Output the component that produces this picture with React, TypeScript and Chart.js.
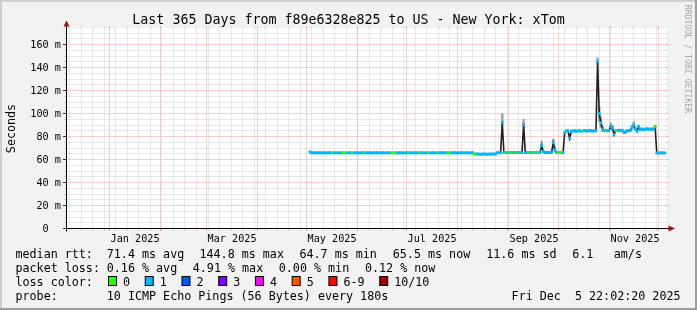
import React, { useEffect, useRef } from 'react';
import Chart from 'chart.js/auto';

// ---------------- data ----------------
const TITLE = 'Last 365 Days from f89e6328e825 to US - New York: xTom';
const Y_AXIS_TITLE = 'Seconds';
const WATERMARK = 'RRDTOOL / TOBI OETIKER';
const DAY_MS = 86400000;
const END_TIME = Date.UTC(2025, 11, 5, 22, 2, 20);
const START_TIME = END_TIME - 365 * DAY_MS;
const FIRST_SAMPLE = Date.UTC(2025, 4, 3); // day index 0

// median rtt per day (ms), from May 3 2025 to Dec 5 2025
const MEDIAN_MS = [
  66.5, 65.9, 65.8, 65.9, 65.8, 65.8, 65.9, 65.8, 65.8, 65.9, 65.8, 65.8, 65.9, 65.8, 65.8, 65.8, 65.9, 65.8, 65.8, 65.8,
  65.8, 65.9, 65.8, 65.8, 65.9, 65.8, 65.8, 65.8, 65.9, 65.8, 65.8, 65.8, 65.9, 65.8, 65.8, 65.9, 65.8, 65.8, 65.8, 65.9,
  65.8, 65.9, 65.8, 65.8, 65.9, 65.8, 65.8, 65.8, 65.9, 65.8, 65.8, 65.8, 65.9, 65.8, 65.8, 65.9, 65.8, 65.8, 65.8, 65.9,
  65.8, 65.9, 65.8, 65.8, 65.9, 65.8, 65.8, 65.8, 65.9, 65.8, 65.8, 65.8, 65.9, 65.8, 65.8, 65.9, 65.8, 65.8, 65.8, 65.9,
  65.8, 65.9, 65.8, 65.8, 65.9, 65.8, 65.8, 65.8, 65.9, 65.8, 65.8, 65.8, 65.9, 65.8, 65.8, 65.9, 65.8, 65.8, 65.8, 65.9,
  64.8, 64.7, 64.8, 64.7, 64.6, 64.7, 64.8, 64.7, 64.6, 64.7, 64.8, 64.7, 64.8, 64.9, 65.9, 66.0, 65.9, 92.5, 66.0, 66.1,
  66.0, 66.1, 66.0, 66.0, 66.1, 66.0, 66.0, 66.1, 66.0, 66.0, 90.5, 66.0, 66.1, 66.0, 66.0, 66.1, 66.0, 66.0, 66.1, 66.0,
  66.2, 72.0, 67.0, 66.1, 66.0, 66.1, 66.0, 66.3, 74.5, 68.5, 66.2, 66.0, 66.1, 66.0, 66.1, 83.5, 85.0, 85.0, 78.5, 84.6,
  84.8, 85.0, 84.6, 84.8, 85.0, 84.7, 84.9, 85.2, 84.8, 84.9, 85.3, 85.0, 84.8, 85.1, 85.0, 145.0, 100.0, 92.0, 86.5, 85.2,
  85.4, 85.0, 85.3, 89.0, 87.5, 81.5, 85.0, 85.3, 85.6, 85.2, 85.4, 83.5, 84.0, 85.3, 85.1, 85.5, 88.0, 90.0, 86.5, 84.5,
  88.5, 86.2, 86.5, 86.0, 86.4, 86.8, 86.3, 86.6, 86.2, 86.7, 88.5, 65.8, 65.7, 65.8, 65.8, 65.7, 65.8,
];

// loss band per day (index into LOSS_COLORS)
const LOSS_BAND = [
  1, 1, 1, 1, 1, 1, 1, 1, 1, 1, 1, 1, 1, 1, 0, 1, 1, 1, 1, 1,
  0, 0, 0, 1, 1, 1, 0, 1, 1, 1, 1, 1, 1, 0, 1, 1, 1, 1, 1, 1,
  1, 1, 1, 1, 1, 1, 1, 1, 1, 1, 0, 0, 0, 1, 1, 1, 1, 1, 1, 1,
  0, 1, 1, 1, 1, 1, 1, 0, 1, 1, 1, 1, 0, 1, 1, 1, 1, 1, 0, 1,
  1, 1, 1, 1, 0, 0, 1, 1, 1, 1, 1, 1, 1, 1, 1, 1, 1, 1, 1, 1,
  0, 0, 1, 1, 1, 1, 1, 1, 1, 1, 1, 1, 1, 1, 1, 1, 1, 1, 1, 0,
  1, 0, 1, 0, 1, 0, 1, 0, 1, 1, 1, 1, 1, 0, 1, 0, 1, 0, 1, 0,
  1, 1, 1, 1, 1, 1, 1, 1, 1, 1, 1, 0, 0, 0, 1, 1, 1, 1, 1, 1,
  1, 1, 1, 1, 1, 1, 0, 1, 1, 1, 1, 1, 1, 1, 1, 1, 1, 1, 1, 1,
  0, 1, 1, 1, 1, 1, 1, 0, 1, 1, 1, 1, 1, 1, 1, 1, 1, 1, 1, 1,
  1, 1, 1, 1, 1, 1, 1, 1, 1, 1, 0, 1, 1, 1, 1, 1, 1,
];

// visible "smoke" (ping spread) on a few days
const SMOKE_DAY = [117, 130, 141, 148, 149, 175, 176, 177, 178, 183, 184, 196, 197, 200, 210];
const SMOKE_LOW = [91.0, 89.5, 70.5, 72.5, 67.0, 143.0, 93.0, 88.0, 84.5, 87.0, 86.0, 86.5, 88.0, 87.0, 87.0];
const SMOKE_HIGH = [100.0, 95.0, 76.0, 77.5, 71.0, 148.5, 106.0, 97.0, 89.0, 92.0, 90.0, 90.0, 93.0, 90.0, 90.0];

const Y_MAX = 174;
const Y_MINOR_STEP = 5;
const Y_MAJOR_STEP = 20;
const Y_TICKS = [0, 20, 40, 60, 80, 100, 120, 140, 160];
const Y_TICK_LABELS = ['0  ', '20 m', '40 m', '60 m', '80 m', '100 m', '120 m', '140 m', '160 m'];
const X_LABELS = ['Jan 2025', 'Mar 2025', 'May 2025', 'Jul 2025', 'Sep 2025', 'Nov 2025'];
const X_LABEL_MONTHS = [0, 2, 4, 6, 8, 10];

const LOSS_COLORS = ['#26ff00', '#00b8ff', '#0059ff', '#7e00ff', '#ff00ff', '#ff5500', '#ff0000', '#a10000'];
const LOSS_NAMES = ['0', '1', '2', '3', '4', '5', '6-9', '10/10'];

const LEGEND_RTT = ['median rtt:', '71.4 ms avg', '144.8 ms max', '64.7 ms min', '65.5 ms now', '11.6 ms sd', '6.1', 'am/s'];
const LEGEND_LOSS = ['packet loss:', '0.16 % avg', '4.91 % max', '0.00 % min', '0.12 % now'];
const LEGEND_COLOR = 'loss color:';
const LEGEND_PROBE = ['probe:', '10 ICMP Echo Pings (56 Bytes) every 180s'];
const TIMESTAMP = 'Fri Dec  5 22:02:20 2025';

// ---------------- drawing ----------------
const W = 697;
const H = 310;
const MONO = '"DejaVu Sans Mono", monospace';
const cr = (v: number) => Math.floor(v) + 0.5;

const rrdPlugin = {
  id: 'rrd',
  beforeDraw(chart: any) {
    const ctx = chart.ctx as CanvasRenderingContext2D;
    const { left, right, top, bottom } = chart.chartArea;
    const xs = chart.scales.x;
    const ys = chart.scales.y;
    ctx.save();
    ctx.fillStyle = '#f2f2f2';
    ctx.fillRect(0, 0, W, H);
    ctx.fillStyle = '#cfcfcf';
    ctx.fillRect(0, 0, W, 2);
    ctx.fillRect(0, 0, 2, H);
    ctx.fillStyle = '#9e9e9e';
    ctx.fillRect(0, H - 2, W, 2);
    ctx.fillRect(W - 2, 0, 2, H);
    ctx.fillStyle = '#ffffff';
    ctx.fillRect(left, top, right - left, bottom - top);

    const gray = '#d4d4d4';
    const red = '#f2a0a0';
    ctx.lineWidth = 1;
    const hline = (v: number, color: string) => {
      const y = cr(ys.getPixelForValue(v));
      ctx.strokeStyle = color;
      ctx.setLineDash([]);
      ctx.beginPath();
      ctx.moveTo(left - 2.5, y); ctx.lineTo(left, y);
      ctx.moveTo(right, y); ctx.lineTo(right + 2, y);
      ctx.stroke();
      ctx.setLineDash([1, 1]);
      ctx.beginPath();
      ctx.moveTo(left, y); ctx.lineTo(right, y);
      ctx.stroke();
    };
    const vline = (t: number, color: string) => {
      const x = cr(xs.getPixelForValue(t));
      ctx.strokeStyle = color;
      ctx.setLineDash([]);
      ctx.beginPath();
      ctx.moveTo(x, top - 2); ctx.lineTo(x, top);
      ctx.moveTo(x, bottom); ctx.lineTo(x, bottom + 2.5);
      ctx.stroke();
      ctx.setLineDash([1, 1]);
      ctx.beginPath();
      ctx.moveTo(x, bottom); ctx.lineTo(x, top);
      ctx.stroke();
    };
    // minor
    for (let v = Y_MINOR_STEP; v < Y_MAX; v += Y_MINOR_STEP) {
      if (v % Y_MAJOR_STEP !== 0) hline(v, gray);
    }
    const d0 = new Date(START_TIME);
    let t = Date.UTC(d0.getUTCFullYear(), d0.getUTCMonth(), d0.getUTCDate() + 1);
    while (new Date(t).getUTCDay() !== 0) t += DAY_MS;
    for (; t < END_TIME; t += 7 * DAY_MS) vline(t, gray);
    // major
    for (let v = Y_MAJOR_STEP; v < Y_MAX; v += Y_MAJOR_STEP) hline(v, red);
    for (let m = 0; m < 24; m++) {
      const tm = Date.UTC(2024, m, 1);
      if (tm > START_TIME && tm < END_TIME) vline(tm, red);
    }
    ctx.restore();
  },
  afterDraw(chart: any) {
    const ctx = chart.ctx as CanvasRenderingContext2D;
    const { left, right, top, bottom } = chart.chartArea;
    const xs = chart.scales.x;
    const ys = chart.scales.y;
    ctx.save();
    ctx.setLineDash([]);
    // axes
    const ax = cr(left);
    const ay = cr(bottom);
    ctx.strokeStyle = '#000000';
    ctx.lineWidth = 1;
    ctx.beginPath();
    ctx.moveTo(ax, bottom + 3); ctx.lineTo(ax, top - 3);
    ctx.moveTo(left - 3.5, ay); ctx.lineTo(right + 3, ay);
    ctx.stroke();
    // y major ticks
    ctx.strokeStyle = '#303030';
    ctx.beginPath();
    for (const v of Y_TICKS) {
      const y = cr(ys.getPixelForValue(v));
      ctx.moveTo(left - 3.5, y); ctx.lineTo(left, y);
    }
    ctx.stroke();
    // arrows
    ctx.fillStyle = '#a01010';
    ctx.beginPath();
    ctx.moveTo(ax, top - 8); ctx.lineTo(ax - 3, top - 2); ctx.lineTo(ax + 3, top - 2); ctx.closePath();
    ctx.fill();
    ctx.beginPath();
    ctx.moveTo(right + 8.5, ay); ctx.lineTo(right + 2, ay - 3); ctx.lineTo(right + 2, ay + 3); ctx.closePath();
    ctx.fill();

    ctx.fillStyle = '#000000';
    // y labels
    ctx.font = '10.2px ' + MONO;
    ctx.textAlign = 'right';
    ctx.textBaseline = 'alphabetic';
    Y_TICKS.forEach((v, i) => {
      ctx.fillText(Y_TICK_LABELS[i], left - 5.5, cr(ys.getPixelForValue(v)) + 3.6);
    });
    // x labels
    ctx.textAlign = 'left';
    X_LABELS.forEach((s, i) => {
      const x = cr(xs.getPixelForValue(Date.UTC(2025, X_LABEL_MONTHS[i], 1)));
      ctx.fillText(s, x + 1, 241.5);
    });
    // title
    ctx.font = '13.3px ' + MONO;
    ctx.textAlign = 'center';
    ctx.fillText(TITLE, W / 2, 23.6);
    // y axis title
    ctx.font = '11.7px ' + MONO;
    ctx.save();
    ctx.translate(15, (top + bottom) / 2);
    ctx.rotate(-Math.PI / 2);
    ctx.fillText(Y_AXIS_TITLE, 0, 0);
    ctx.restore();
    // watermark
    ctx.save();
    ctx.font = '8.2px ' + MONO;
    ctx.fillStyle = '#a9a9a9';
    ctx.translate(685, 59);
    ctx.rotate(Math.PI / 2);
    ctx.fillText(WATERMARK, 0, 0);
    ctx.restore();
    // legend
    ctx.font = '11.7px ' + MONO;
    ctx.textAlign = 'left';
    const rttX = [15.5, 106.8, 199.5, 299.5, 392.8, 486.2, 572.2, 613.8];
    LEGEND_RTT.forEach((s, i) => ctx.fillText(s, rttX[i], 258.3));
    const lossX = [15.5, 106.8, 192.8, 278.8, 365];
    LEGEND_LOSS.forEach((s, i) => ctx.fillText(s, lossX[i], 272.3));
    ctx.fillText(LEGEND_COLOR, 15.5, 286.3);
    let bx = 108.5;
    LOSS_NAMES.forEach((s, i) => {
      ctx.fillStyle = LOSS_COLORS[i];
      ctx.fillRect(bx, 276.5, 8, 9);
      ctx.strokeStyle = '#000000';
      ctx.strokeRect(bx, 276.5, 8, 9);
      ctx.fillStyle = '#000000';
      ctx.fillText(s, bx + 14.5, 286.3);
      bx += 14.5 + ctx.measureText(s).width + 15.2;
    });
    ctx.fillText(LEGEND_PROBE[0], 15.5, 300.3);
    ctx.fillText(LEGEND_PROBE[1], 106.8, 300.3);
    ctx.textAlign = 'right';
    ctx.fillText(TIMESTAMP, 680.5, 300.3);
    ctx.restore();
  },
};

export default function App() {
  const ref = useRef<HTMLCanvasElement | null>(null);
  useEffect(() => {
    document.body.style.margin = '0';
    const canvas = ref.current;
    if (!canvas) return;
    const days = MEDIAN_MS.map((_, i) => FIRST_SAMPLE + i * DAY_MS);
    const chart = new Chart(canvas, {
      type: 'bar',
      data: {
        datasets: [
          {
            type: 'bar',
            label: 'smoke',
            data: SMOKE_DAY.map((d, i) => ({ x: FIRST_SAMPLE + d * DAY_MS, y: [SMOKE_LOW[i], SMOKE_HIGH[i]] })) as any,
            backgroundColor: '#a8a8a8',
            borderWidth: 0,
            barThickness: 2,
            grouped: false,
            order: 3,
          } as any,
          {
            type: 'line',
            label: 'median',
            data: days.map((t, i) => ({ x: t, y: MEDIAN_MS[i] })) as any,
            borderColor: '#202020',
            borderWidth: 1.6,
            pointRadius: 0,
            tension: 0,
            order: 2,
          } as any,
          {
            type: 'bar',
            label: 'loss',
            data: days.map((t, i) => ({ x: t, y: [MEDIAN_MS[i] - 1.0, MEDIAN_MS[i] + 1.0] })) as any,
            backgroundColor: LOSS_BAND.map((b) => LOSS_COLORS[b]),
            borderWidth: 0,
            barThickness: 2,
            grouped: false,
            order: 1,
          } as any,
        ],
      },
      options: {
        responsive: false,
        animation: false,
        devicePixelRatio: 1,
        events: [],
        layout: { padding: { left: 66.5, right: W - 666.5, top: 28.5, bottom: H - 228.5 } },
        plugins: { legend: { display: false }, tooltip: { enabled: false }, title: { display: false } },
        scales: {
          x: { type: 'linear', min: START_TIME, max: END_TIME, display: false, offset: false },
          y: { type: 'linear', min: 0, max: Y_MAX, display: false },
        },
      } as any,
      plugins: [rrdPlugin],
    });
    return () => chart.destroy();
  }, []);
  return (
    <div style={{ position: 'absolute', left: 0, top: 0, width: W, height: H }}>
      <canvas ref={ref} width={W} height={H} />
    </div>
  );
}
